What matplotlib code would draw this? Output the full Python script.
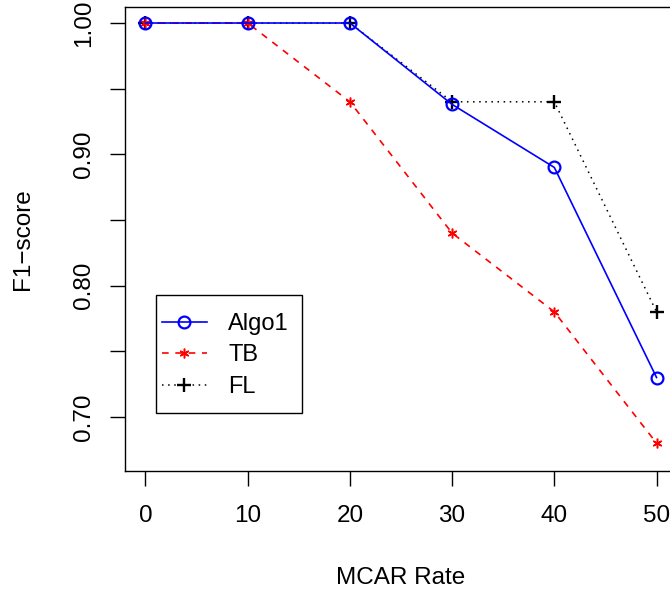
import matplotlib
matplotlib.use("Agg")
import matplotlib.pyplot as plt
from matplotlib.patches import Rectangle

plt.rcParams['font.family'] = ['Liberation Sans', 'DejaVu Sans']

# data
rate = [0, 10, 20, 30, 40, 50]
algo1 = [1.00, 1.00, 1.00, 0.938, 0.890, 0.730]
tb = [1.00, 1.00, 0.940, 0.840, 0.780, 0.680]
fl = [1.00, 1.00, 1.00, 0.940, 0.940, 0.780]
yticks = [0.70, 0.75, 0.80, 0.85, 0.90, 0.95, 1.00]
ylabels = ['0.70', '', '0.80', '', '0.90', '', '1.00']

W, H = 670, 589
fig = plt.figure(figsize=(W / 100, H / 100), dpi=100)
# axes box runs off the right side, as in the reference
ax = fig.add_axes([125 / W, (H - 471) / H, 552 / W, 464 / H])

ax.plot(rate, fl, color='black', linestyle=(0, (1, 3)), linewidth=1.1,
        marker='+', markersize=10, markeredgewidth=1.7, label='FL', zorder=2)
ax.plot(rate, tb, color='red', linestyle=(0, (4, 4)), linewidth=1.2,
        marker=(6, 2, 0), markersize=7, markeredgewidth=1.1, label='TB', zorder=3)
ax.plot(rate, algo1, color='blue', linestyle='-', linewidth=1.2,
        marker='o', markersize=8.5, markerfacecolor='none', markeredgewidth=1.6,
        label='Algo1', zorder=4)

ax.set_xlim(-2, 52)
ax.set_ylim(0.6588, 1.0122)
ax.set_xticks(rate)
ax.set_xticklabels([str(r) for r in rate])
ax.set_yticks(yticks)
ax.set_yticklabels(ylabels, rotation=90, va='center')

ax.tick_params(axis='both', direction='out', length=10.5, width=1.0,
               labelsize=17.5, color='black')
ax.tick_params(axis='x', pad=14)
ax.tick_params(axis='y', pad=11)
for s in ax.spines.values():
    s.set_linewidth(1.0)

ax.set_xlabel('MCAR Rate', fontsize=17.5, labelpad=29)
ax.set_ylabel('F1\u2212score', fontsize=17.5, labelpad=28)

h, l = ax.get_legend_handles_labels()
order = [2, 1, 0]
leg = ax.legend([h[i] for i in order], [l[i] for i in order],
                loc='upper left', bbox_to_anchor=(162 / W, 1 - 313 / H),
                bbox_transform=fig.transFigure, fontsize=17,
                frameon=False, borderaxespad=0, borderpad=0,
                handlelength=1.9, handletextpad=0.9, labelspacing=0.40)
fig.add_artist(Rectangle((156 / W, (H - 413) / H), 146 / W, 118 / H,
                         transform=fig.transFigure, fill=False,
                         edgecolor='black', linewidth=1.0))

fig.savefig('out.png', dpi=100)
